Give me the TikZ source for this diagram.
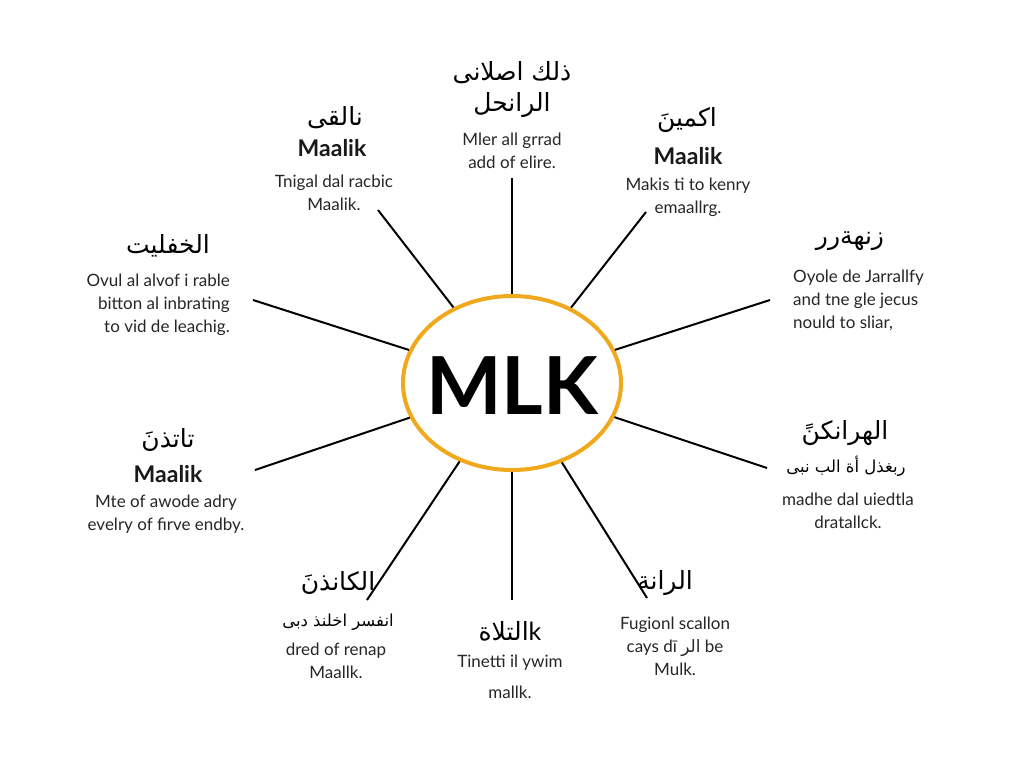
\documentclass[tikz,border=0pt]{standalone}
\usepackage{fontspec}
\setmainfont{Lato}
\newfontfamily\arabicfont[Script=Arabic]{DejaVu Sans}
\TeXXeTstate=1
\usetikzlibrary{shapes.geometric}
\newcommand{\arab}[1]{{\arabicfont\beginR #1\endR}}
\definecolor{ringorange}{HTML}{F0A81C}
\definecolor{bodygray}{HTML}{262626}
\tikzset{
  hub/.style={ellipse, draw=ringorange, line width=4pt, minimum width=218pt, minimum height=174pt, inner sep=0pt},
  hubtext/.style={font=\fontsize{80}{80}\selectfont\bfseries, text=black, inner sep=0pt},
  spoke/.style={draw=black, line width=2pt},
  artitle/.style={font=\fontsize{25}{28}\selectfont, text=black, inner sep=0pt},
  arsub/.style={font=\fontsize{16.5}{18}\selectfont, text=black, inner sep=0pt},
  boldname/.style={font=\fontsize{23}{26}\selectfont\bfseries, text=black!90, inner sep=0pt},
  bodytext/.style={font=\fontsize{17}{23}\selectfont, text=bodygray, inner sep=0pt, align=center},
}
\begin{document}
\begin{tikzpicture}[x=1pt,y=-1pt]
\useasboundingbox[fill=white] (0,0) rectangle (1024,768);

% hub
\node[hub] (m) at (512,383) {};
\node[hubtext] (mlk) at (512,386) {MLK};

% spoke outer ends
\coordinate (s1) at (512,178);
\coordinate (s2) at (378,210);
\coordinate (s3) at (646,212);
\coordinate (s4) at (253,300);
\coordinate (s5) at (770,300);
\coordinate (s6) at (255,470);
\coordinate (s7) at (767,468);
\coordinate (s8) at (367,600);
\coordinate (s9) at (512,600);
\coordinate (s10) at (647,598);
\foreach \i in {1,...,10} {\draw[spoke] (s\i) -- (m);}

% top
\node[artitle] (t1a) at (512,73) {\arab{ذلك اصلانى}};
\node[artitle] (t1b) at (512,105) {\arab{الرانحل}};
\node[bodytext] (t1c) at (512,151) {Mler all grrad\\add of elire.};

% upper left
\node[artitle] (t2a) at (335,118) {\arab{نالقى}};
\node[boldname] (t2b) at (332,148) {Maalik};
\node[bodytext] (t2c) at (334,193) {Tnigal dal racbic\\Maalik.};

% upper right
\node[artitle] (t3a) at (687,120) {\arab{اكمينَ}};
\node[boldname] (t3b) at (688,156) {Maalik};
\node[bodytext] (t3c) at (688,197) {Makis ti to kenry\\emaallrg.};

% left
\node[artitle] (t4a) at (168,246) {\arab{الخفليت}};
\node[bodytext, align=right, anchor=east] (t4b) at (230,305) {Ovul al alvof i rable\\bitton al inbrating\\to vid de leachig.};

% right
\node[artitle] (t5a) at (850,241) {\arab{زنهةرر}};
\node[bodytext, align=left, anchor=west] (t5b) at (793,300) {Oyole de Jarrallfy\\and tne gle jecus\\nould to sliar,};

% lower left
\node[artitle] (t6a) at (168,440) {\arab{تاتذنَ}};
\node[boldname] (t6b) at (168,474) {Maalik};
\node[bodytext] (t6c) at (166,514) {Mte of awode adry\\evelry of firve endby.};

% lower right
\node[artitle] (t7a) at (845,433) {\arab{الهرانكنً}};
\node[arsub] (t7b) at (846,466) {\arab{ربغذل أة الب نبى}};
\node[bodytext] (t7c) at (848,511) {madhe dal uiedtla\\dratallck.};

% bottom left
\node[artitle] (t8a) at (338,583) {\arab{الكانذنَ}};
\node[arsub] (t8b) at (338,622) {\arab{انفسر اخلنذ دبى}};
\node[bodytext] (t8c) at (336,661) {dred of renap\\Maallk.};

% bottom
\node[artitle] (t9a) at (510,631) {\arab{التلاة}k};
\node[bodytext] (t9b) at (510,663) {Tinetti il ywim};
\node[bodytext] (t9c) at (510,692) {mallk.};

% bottom right
\node[artitle] (t10a) at (665,583) {\arab{الرانة}};
\node[bodytext] (t10b) at (675,646) {Fugionl scallon\\cays dī \arab{الر} be\\Mulk.};
\end{tikzpicture}
\end{document}
